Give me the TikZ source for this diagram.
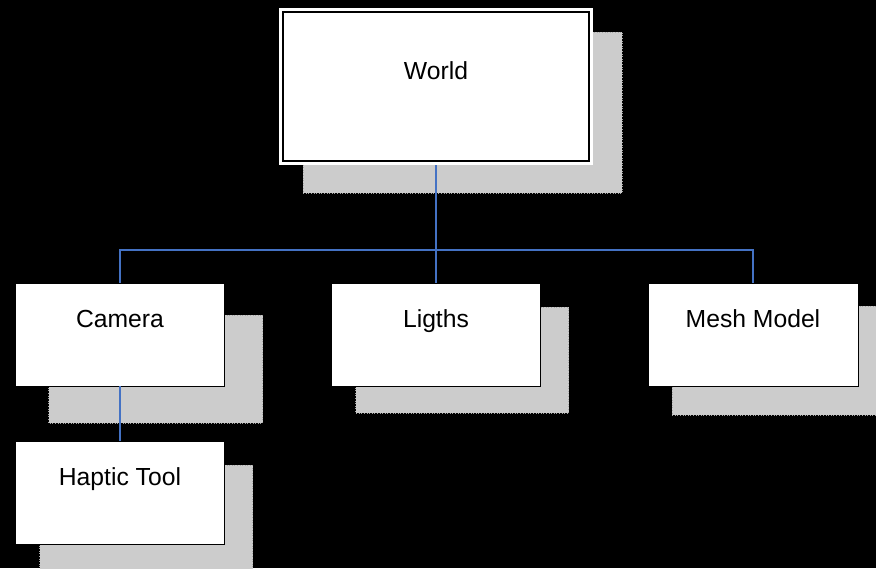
\documentclass[tikz,border=0pt]{standalone}
\usepackage{fontspec}
\setmainfont{Liberation Sans}
\usetikzlibrary{
    positioning,
    backgrounds
}
\definecolor{linkblue}{RGB}{68,114,196}
\definecolor{shadegray}{RGB}{204,204,204}
\tikzstyle{box} = [
    rectangle,
    draw=black,
    line width=0.8pt,
    fill=white,
    minimum width=209pt,
    minimum height=103pt,
    inner sep=0pt,
    outer sep=0pt
]
\tikzstyle{boxtext} = [
    anchor=base,
    inner sep=0pt,
    font=\fontsize{24.7}{29}\selectfont
]
\tikzstyle{backshade} = [
    fill=shadegray,
    draw=gray!70,
    dotted,
    line width=0.6pt
]
\tikzstyle{link} = [
    draw=linkblue,
    line width=1.5pt
]

\begin{document}
\begin{tikzpicture}[x=1pt, y=1pt]
    \useasboundingbox (0,0) rectangle (876,-568);

    % Root box with inner frame
    \node[box, draw=none, minimum width=314pt, minimum height=157pt] (world) at (436,-86.5) {};
    \draw[line width=1.5pt] ([shift={(4pt,-4pt)}]world.north west) rectangle ([shift={(-4pt,4pt)}]world.south east);
    \node[boxtext] (worldtext) at ([yshift=-71pt]world.north) {World};

    % Scene children
    \node[box] (camera) at (120,-334.5) {};
    \node[box] (ligths) at (436,-334.5) {};
    \node[box, minimum width=210pt] (mesh) at (753,-334.5) {};
    \node[box, below=55pt of camera] (haptic) {};

    \node[boxtext] (cameratext) at ([yshift=-44pt]camera.north) {Camera};
    \node[boxtext] (ligthstext) at ([yshift=-44pt]ligths.north) {Ligths};
    \node[boxtext] (meshtext) at ([yshift=-44pt]mesh.north) {Mesh Model};
    \node[boxtext] (haptictext) at ([yshift=-44pt]haptic.north) {Haptic Tool};

    % Tree connections
    \coordinate (bus) at ([yshift=-85pt]world.south);
    \draw[link] (world.south) -- (bus);
    \draw[link] (bus) -| (camera.north);
    \draw[link] (bus) -| (mesh.north);
    \draw[link] (bus) -- (ligths.north);
    \draw[link] (camera.south) -- (haptic.north);

    % Background and drop shadows
    \begin{scope}[on background layer]
        \fill[black] (0,0) rectangle (876,-568);
        \draw[backshade] ([shift={(24pt,-24pt)}]world.north west) rectangle ([shift={(29pt,-28pt)}]world.south east);
        \draw[backshade] ([shift={(33pt,-32pt)}]camera.north west) rectangle ([shift={(38pt,-37pt)}]camera.south east);
        \draw[backshade] ([shift={(24pt,-24pt)}]ligths.north west) rectangle ([shift={(28pt,-27pt)}]ligths.south east);
        \draw[backshade] ([shift={(24pt,-23pt)}]mesh.north west) rectangle ([shift={(28pt,-29pt)}]mesh.south east);
        \draw[backshade] ([shift={(24pt,-24pt)}]haptic.north west) rectangle ([shift={(28pt,-28pt)}]haptic.south east);
    \end{scope}
\end{tikzpicture}
\end{document}
